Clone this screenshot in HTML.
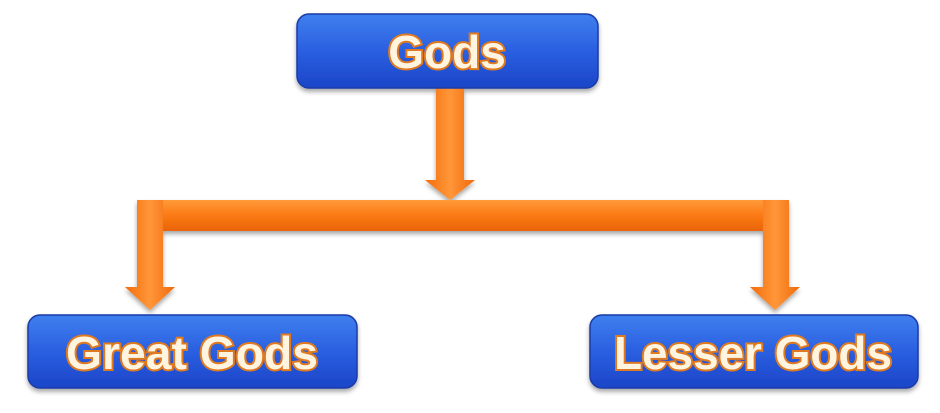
<!DOCTYPE html>
<html><head><style>
html,body{margin:0;padding:0;background:#fff;}
svg{display:block;}
text{font-family:"Liberation Sans",Arial,sans-serif;font-weight:bold;fill:#fff4e0;stroke:#e07a20;stroke-width:4;paint-order:stroke;text-anchor:middle;}
</style></head><body>
<svg width="940" height="413" viewBox="0 0 940 413">
<defs>
<linearGradient id="b" x1="0" y1="0" x2="0" y2="1">
<stop offset="0" stop-color="#3f7fee"/><stop offset="0.5" stop-color="#2a5fe0"/><stop offset="1" stop-color="#1c45c8"/>
</linearGradient>
<linearGradient id="oh" x1="0" y1="0" x2="0" y2="1">
<stop offset="0" stop-color="#ff9a3a"/><stop offset="0.5" stop-color="#fb7a14"/><stop offset="1" stop-color="#e86408"/>
</linearGradient>
<linearGradient id="ov" x1="0" y1="0" x2="1" y2="0">
<stop offset="0" stop-color="#f36c0c"/><stop offset="0.5" stop-color="#ff9638"/><stop offset="1" stop-color="#f06a0c"/>
</linearGradient>
<filter id="s" x="-10%" y="-10%" width="120%" height="130%"><feDropShadow dx="0" dy="3" stdDeviation="2.5" flood-color="#000" flood-opacity="0.35"/></filter>
</defs>
<g filter="url(#s)">
<path d="M436 88 H464 V180 H475 L450 200 L425 180 H436 Z" fill="url(#ov)"/>
<rect x="137" y="200" width="651" height="31" fill="url(#oh)"/>
<path d="M137 200 H163 V287 H175 L150 310 L125 287 H137 Z" fill="url(#ov)"/>
<path d="M763 200 H789 V287 H800 L775 310 L750 287 H763 Z" fill="url(#ov)"/>
<rect x="297" y="14" width="301" height="74" rx="12" fill="url(#b)" stroke="#1a3aa8" stroke-width="1.5"/>
<rect x="28" y="315" width="329" height="73" rx="12" fill="url(#b)" stroke="#1a3aa8" stroke-width="1.5"/>
<rect x="590" y="315" width="328" height="73" rx="12" fill="url(#b)" stroke="#1a3aa8" stroke-width="1.5"/>
</g>
<text x="447" y="68" font-size="46">Gods</text>
<text x="192" y="369" font-size="46" textLength="252" lengthAdjust="spacingAndGlyphs">Great Gods</text>
<text x="753" y="369" font-size="46" textLength="278" lengthAdjust="spacingAndGlyphs">Lesser Gods</text>
</svg>
</body></html>
